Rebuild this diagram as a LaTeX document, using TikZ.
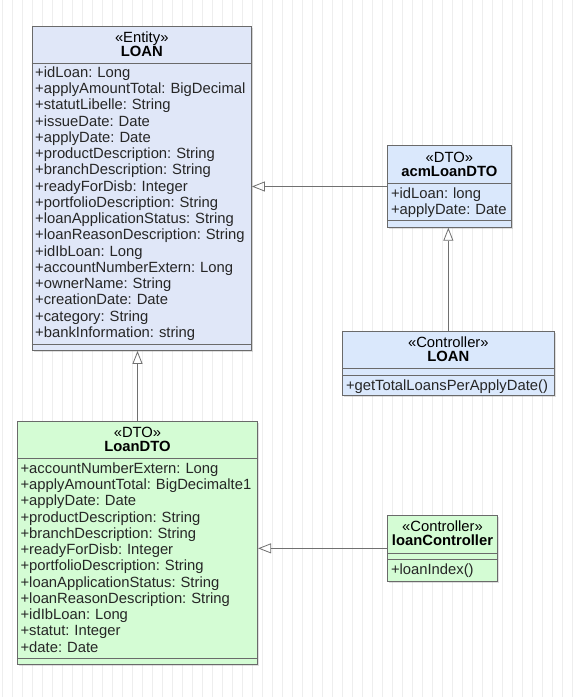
\documentclass[tikz,border=0pt]{standalone}
\usepackage{fontspec}
\setmainfont{Liberation Sans}
\usepackage{tikz}
\usetikzlibrary{positioning,arrows.meta,shadows}
\definecolor{entityblue}{HTML}{E0E7F8}
\definecolor{dtoblue}{HTML}{DAE8FC}
\definecolor{dtogreen}{HTML}{D4FCD4}
\definecolor{boxgray}{HTML}{6A6A6A}
\definecolor{linegray}{HTML}{707070}
\definecolor{gridgray}{HTML}{EEEEEE}

\begin{document}
\begin{tikzpicture}[x=1pt,y=-1pt]
\tikzstyle{umlclass}=[rectangle, draw=boxgray, line width=0.8pt, inner sep=0pt, drop shadow={shadow xshift=1.5pt, shadow yshift=-1.5pt, opacity=0.25}]
\tikzstyle{head}=[align=center, inner sep=0pt, font=\fontsize{14.8}{14}\selectfont\frenchspacing]
\tikzstyle{members}=[anchor=base west, align=left, text width=260pt, inner sep=0pt, text=black!85, font=\fontsize{14.8}{16.25}\selectfont\frenchspacing]
\tikzstyle{sep}=[draw=boxgray, line width=0.8pt]
\tikzstyle{extends}=[-{Triangle[open,length=13pt,width=10pt]}, linegray, line width=0.8pt]

\fill[white] (0,0) rectangle (582,697);
\useasboundingbox (0,0) rectangle (582,697);
\draw[gridgray, line width=0.8pt, shift={(2.5,5)}] (-2.5,-5) grid[step=10] (579.5,692);

% entity
\node[umlclass, fill=entityblue, minimum width=219.5pt, minimum height=324.5pt] (loan) at (141.75,188.25) {};
\node[head] (loanhead) at (141.75,44) {«Entity»\\\textbf{LOAN}};
\node[members] (loanattr) at (35,77.3) {+idLoan: Long\\+applyAmountTotal: BigDecimal\\+statutLibelle: String\\+issueDate: Date\\+applyDate: Date\\+productDescription: String\\+branchDescription: String\\+readyForDisb: Integer\\+portfolioDescription: String\\+loanApplicationStatus: String\\+loanReasonDescription: String\\+idIbLoan: Long\\+accountNumberExtern: Long\\+ownerName: String\\+creationDate: Date\\+category: String\\+bankInformation: string};
\draw[sep] (loan.west |- 0,63.3) -- (loan.east |- 0,63.3);
\draw[sep] (loan.west |- 0,344) -- (loan.east |- 0,344);

% dto of the entity
\node[umlclass, fill=dtoblue, minimum width=123.3pt, minimum height=81.6pt] (acm) at (449.35,186.5) {};
\node[head] (acmhead) at (449.35,164) {«DTO»\\\textbf{acmLoanDTO}};
\node[members] (acmattr) at (390.8,198.3) {+idLoan: long\\+applyDate: Date};
\draw[sep] (acm.west |- 0,183.3) -- (acm.east |- 0,183.3);
\draw[sep] (acm.west |- 0,220.7) -- (acm.east |- 0,220.7);

\node[umlclass, fill=dtoblue, minimum width=211.3pt, minimum height=64.7pt] (ctrlloan) at (448.35,363.35) {};
\node[head] (ctrlloanhead) at (448.35,349) {«Controller»\\\textbf{LOAN}};
\node[members] (ctrlloanop) at (345.8,390) {+getTotalLoansPerApplyDate()};
\draw[sep] (ctrlloan.west |- 0,368.3) -- (ctrlloan.east |- 0,368.3);
\draw[sep] (ctrlloan.west |- 0,375) -- (ctrlloan.east |- 0,375);

% dto
\node[umlclass, fill=dtogreen, minimum width=240.4pt, minimum height=243.3pt] (loandto) at (137.5,542.65) {};
\node[head] (loandtohead) at (137.5,439) {«DTO»\\\textbf{LoanDTO}};
\node[members] (loandtoattr) at (20.4,473.3) {+accountNumberExtern: Long\\+applyAmountTotal: BigDecimalte1\\+applyDate: Date\\+productDescription: String\\+branchDescription: String\\+readyForDisb: Integer\\+portfolioDescription: String\\+loanApplicationStatus: String\\+loanReasonDescription: String\\+idIbLoan: Long\\+statut: Integer\\+date: Date};
\draw[sep] (loandto.west |- 0,458.3) -- (loandto.east |- 0,458.3);
\draw[sep] (loandto.west |- 0,658.3) -- (loandto.east |- 0,658.3);

\node[umlclass, fill=dtogreen, minimum width=109.6pt, minimum height=65.3pt] (loanctrl) at (442.5,548.35) {};
\node[head] (loanctrlhead) at (442.5,533.7) {«Controller»\\\textbf{loanController}};
\node[members] (loanctrlop) at (390.8,574) {+loanIndex()};
\draw[sep] (loanctrl.west |- 0,553.3) -- (loanctrl.east |- 0,553.3);
\draw[sep] (loanctrl.west |- 0,559.3) -- (loanctrl.east |- 0,559.3);

\path[extends]
	(acm.west) edge (acm.west -| loan.east)
	(ctrlloan.north) edge (ctrlloan.north |- acm.south)
	(loandto.north) edge (loandto.north |- loan.south)
	(loanctrl.west) edge (loanctrl.west -| loandto.east);

\end{tikzpicture}
\end{document}
